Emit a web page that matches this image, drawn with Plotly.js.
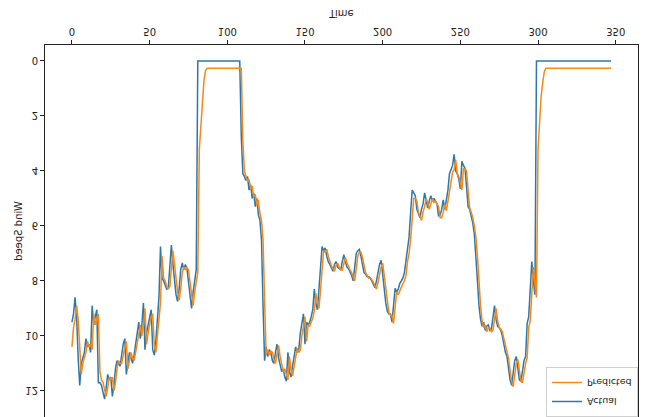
<!DOCTYPE html>
<html>
<head>
<meta charset="utf-8">
<script src="https://cdn.plot.ly/plotly-3.0.1.min.js"></script>
<style>
  html, body { margin: 0; padding: 0; background: #fff; }
  #chart { width: 645px; height: 417px; transform: scaleY(-1); transform-origin: 50% 50%; }
</style>
</head>
<body>
<div id="chart"></div>
<script>
// Wind speed series read from the (vertically mirrored) reference picture
const actual = [
  9.5, 9.2, 8.6, 9.3, 10.8, 11.8, 11.0, 10.8, 10.6, 10.1,
  10.4, 10.3, 10.6, 8.9, 9.6, 9.3, 9.05, 11.7, 11.7, 11.8,
  12.1, 12.3, 11.9, 11.4, 11.6, 11.5, 12.2, 11.8, 11.2, 10.9,
  11.0, 11.1, 10.7, 10.3, 10.1, 11.4, 11.0, 10.6, 10.8, 11.0,
  10.7, 10.3, 9.9, 9.5, 10.1, 9.6, 8.8, 10.5, 9.9, 9.6,
  9.3, 9.05, 10.5, 10.7, 10.2, 9.3, 8.6, 6.75, 7.9, 8.0,
  8.2, 8.3, 8.25, 7.4, 6.7, 7.4, 8.0, 8.5, 8.75, 8.3,
  7.6, 7.35, 7.6, 7.4, 7.55, 8.0, 8.6, 9.0, 8.4, 7.9,
  7.6, 0, 0, 0, 0, 0, 0, 0, 0, 0,
  0, 0, 0, 0, 0, 0, 0, 0, 0, 0,
  0, 0, 0, 0, 0, 0, 0, 0, 0, 2.75,
  4.1, 4.2, 4.35, 4.2, 4.7, 4.5, 5.0, 4.8, 5.3, 5.0,
  5.6, 5.8, 6.5, 8.9, 10.9, 10.4, 10.75, 10.5, 10.6, 10.9,
  11.0, 10.6, 10.3, 10.8, 11.0, 11.3, 11.2, 11.5, 11.65, 10.6,
  11.3, 11.5, 11.1, 10.8, 10.4, 10.6, 10.5, 9.9, 9.6, 9.2,
  10.3, 9.5, 9.6, 9.5, 9.3, 9.05, 8.3, 8.8, 9.05, 8.2,
  7.6, 6.75, 6.9, 6.8, 7.1, 7.3, 7.4, 7.5, 7.65, 7.4,
  7.3, 7.5, 7.55, 7.6, 7.3, 7.05, 7.3, 7.5, 7.55, 7.65,
  7.8, 8.0, 7.5, 7.0, 6.9, 6.85, 7.1, 7.35, 7.7, 7.75,
  7.85, 7.85, 7.9, 8.0, 8.1, 8.25, 8.0, 7.7, 7.4, 7.25,
  7.8, 8.3, 8.8, 9.1, 9.2, 9.2, 9.5, 8.9, 8.27, 8.4,
  8.3, 8.1, 8.0, 7.9, 7.7, 7.2, 6.9, 6.4, 5.5, 4.7,
  4.8, 4.9, 5.4, 5.55, 5.7, 5.4, 5.2, 4.8, 5.05, 5.35,
  5.1, 4.9, 5.1, 5.0, 5.1, 5.2, 5.65, 5.6, 5.4, 5.05,
  5.4, 5.0, 4.7, 4.1, 3.9, 3.8, 3.4, 4.0, 4.1, 4.3,
  4.65, 3.65, 3.8, 3.9, 4.6, 5.3, 5.4, 5.6, 5.9, 6.3,
  7.0, 8.0, 8.9, 9.4, 9.65, 9.5, 9.8, 9.65, 9.6, 9.8,
  9.75, 9.3, 8.9, 9.4, 9.65, 9.7, 9.8, 10.0, 10.3, 10.6,
  10.75, 11.2, 11.6, 11.8, 11.3, 10.9, 10.75, 11.3, 11.6, 11.65,
  11.2, 10.9, 10.75, 9.55, 9.3, 8.2, 7.3, 8.0, 8.5, 0,
  0, 0, 0, 0, 0, 0, 0, 0, 0, 0,
  0, 0, 0, 0, 0, 0, 0, 0, 0, 0,
  0, 0, 0, 0, 0, 0, 0, 0, 0, 0,
  0, 0, 0, 0, 0, 0, 0, 0, 0, 0,
  0, 0, 0, 0, 0, 0, 0, 0
];

const predicted = [
  10.4, 9.7, 9.4, 8.9, 9.4, 10.6, 11.4, 11.0, 10.8, 10.6,
  10.2, 10.4, 10.3, 10.5, 9.2, 9.6, 9.4, 9.2, 11.3, 11.6,
  11.7, 12.0, 12.2, 11.9, 11.5, 11.6, 11.5, 12.0, 11.7, 11.2,
  10.9, 11.0, 11.0, 10.7, 10.4, 10.2, 11.2, 10.9, 10.6, 10.8,
  10.9, 10.6, 10.3, 9.9, 9.6, 10.0, 9.6, 9.0, 10.3, 9.9,
  9.6, 9.3, 9.2, 10.3, 10.6, 10.1, 9.4, 8.8, 7.1, 7.9,
  8.0, 8.2, 8.3, 8.2, 7.5, 6.9, 7.4, 8.0, 8.4, 8.7,
  8.3, 7.7, 7.5, 7.6, 7.5, 7.6, 8.0, 8.5, 8.9, 8.4,
  8.0, 7.7, 3.2, 2.3, 1.4, 0.7, 0.35, 0.27, 0.27, 0.27,
  0.27, 0.27, 0.27, 0.27, 0.27, 0.27, 0.27, 0.27, 0.27, 0.27,
  0.27, 0.27, 0.27, 0.27, 0.27, 0.27, 0.27, 0.27, 0.27, 0.27,
  2.9, 4.0, 4.2, 4.35, 4.3, 4.65, 4.55, 4.95, 4.85, 5.25,
  5.05, 5.55, 5.8, 6.5, 8.7, 10.7, 10.5, 10.7, 10.55, 10.6,
  10.85, 11.0, 10.65, 10.35, 10.75, 11.0, 11.3, 11.2, 11.45, 11.6,
  10.75, 11.25, 11.45, 11.1, 10.85, 10.45, 10.6, 10.5, 10.0, 9.65,
  9.3, 10.2, 9.6, 9.65, 9.5, 9.35, 9.1, 8.45, 8.8, 9.0,
  8.35, 7.7, 6.9, 6.95, 6.85, 7.1, 7.3, 7.45, 7.55, 7.65,
  7.45, 7.35, 7.5, 7.6, 7.6, 7.35, 7.15, 7.35, 7.5, 7.6,
  7.7, 7.85, 8.0, 7.55, 7.1, 6.95, 6.95, 7.15, 7.4, 7.7,
  7.8, 7.9, 7.9, 7.95, 8.05, 8.15, 8.3, 8.05, 7.75, 7.5,
  7.35, 7.85, 8.35, 8.85, 9.15, 9.25, 9.25, 9.55, 8.95, 8.4,
  8.5, 8.35, 8.2, 8.1, 8.0, 7.8, 7.3, 7.0, 6.5, 5.7,
  5.0, 5.0, 5.1, 5.5, 5.65, 5.8, 5.5, 5.3, 5.0, 5.15,
  5.4, 5.2, 5.0, 5.15, 5.1, 5.2, 5.3, 5.7, 5.7, 5.5,
  5.2, 5.45, 5.1, 4.8, 4.3, 4.05, 3.95, 3.6, 4.1, 4.2,
  4.45, 4.7, 3.9, 3.95, 4.0, 4.7, 5.35, 5.5, 5.7, 6.0,
  6.4, 7.1, 8.1, 8.9, 9.45, 9.7, 9.6, 9.85, 9.7, 9.7,
  9.85, 9.8, 9.4, 9.0, 9.45, 9.7, 9.75, 9.85, 10.1, 10.35,
  10.65, 10.8, 11.25, 11.65, 11.85, 11.35, 11.0, 10.85, 11.35, 11.65,
  11.7, 11.25, 11.0, 10.8, 9.7, 9.45, 8.6, 7.5, 8.1, 8.6,
  3.2, 2.2, 1.3, 0.8, 0.4, 0.27, 0.27, 0.27, 0.27, 0.27,
  0.27, 0.27, 0.27, 0.27, 0.27, 0.27, 0.27, 0.27, 0.27, 0.27,
  0.27, 0.27, 0.27, 0.27, 0.27, 0.27, 0.27, 0.27, 0.27, 0.27,
  0.27, 0.27, 0.27, 0.27, 0.27, 0.27, 0.27, 0.27, 0.27, 0.27,
  0.27, 0.27, 0.27, 0.27, 0.27, 0.27, 0.27, 0.27
];

const xTicks = [0, 50, 100, 150, 200, 250, 300, 350];
const yTicks = [0, 2, 4, 6, 8, 10, 12];
const seriesNames = ["Actual", "Predicted"];

const timeIdx = actual.map((_, i) => i);
const predIdx = predicted.map((_, i) => i);

const font = "DejaVu Sans, Liberation Sans, sans-serif";

const traces = [
  { x: timeIdx, y: actual, name: seriesNames[0], type: "scatter", mode: "lines",
    line: { color: "#2a78ae", width: 1.5 } },
  { x: predIdx, y: predicted, name: seriesNames[1], type: "scatter", mode: "lines",
    line: { color: "#f5891b", width: 1.5 } }
];

const axisCommon = {
  showline: true, mirror: true, linecolor: "#222", linewidth: 1,
  ticks: "outside", ticklen: 4, tickwidth: 1, tickcolor: "#222",
  showgrid: false, zeroline: false,
  tickfont: { family: font, size: 10, color: "#222" }
};

const layout = {
  width: 645, height: 417,
  margin: { l: 45, r: 7, t: 0, b: 45 },
  paper_bgcolor: "#fff", plot_bgcolor: "#fff",
  font: { family: font, size: 10, color: "#222" },
  showlegend: true,
  legend: {
    x: 1.0, xanchor: "right", y: 1.0, yanchor: "top",
    bgcolor: "rgba(255,255,255,0.85)", bordercolor: "#d0d0d0", borderwidth: 1,
    font: { family: font, size: 9.5, color: "#222" },
    itemwidth: 30, tracegroupgap: 0
  },
  xaxis: Object.assign({}, axisCommon, {
    range: [-17.35, 364.35], tickmode: "array", tickvals: xTicks, ticktext: xTicks.map(String),
    title: { text: "Time", font: { family: font, size: 10, color: "#222" }, standoff: 10 }
  }),
  yaxis: Object.assign({}, axisCommon, {
    range: [-0.58, 12.95], tickmode: "array", tickvals: yTicks, ticktext: yTicks.map(String),
    automargin: true,
    title: { text: "Wind Speed", font: { family: font, size: 10, color: "#222" }, standoff: 0 }
  })
};

Plotly.newPlot("chart", traces, layout, { displayModeBar: false, staticPlot: true });
</script>
</body>
</html>
